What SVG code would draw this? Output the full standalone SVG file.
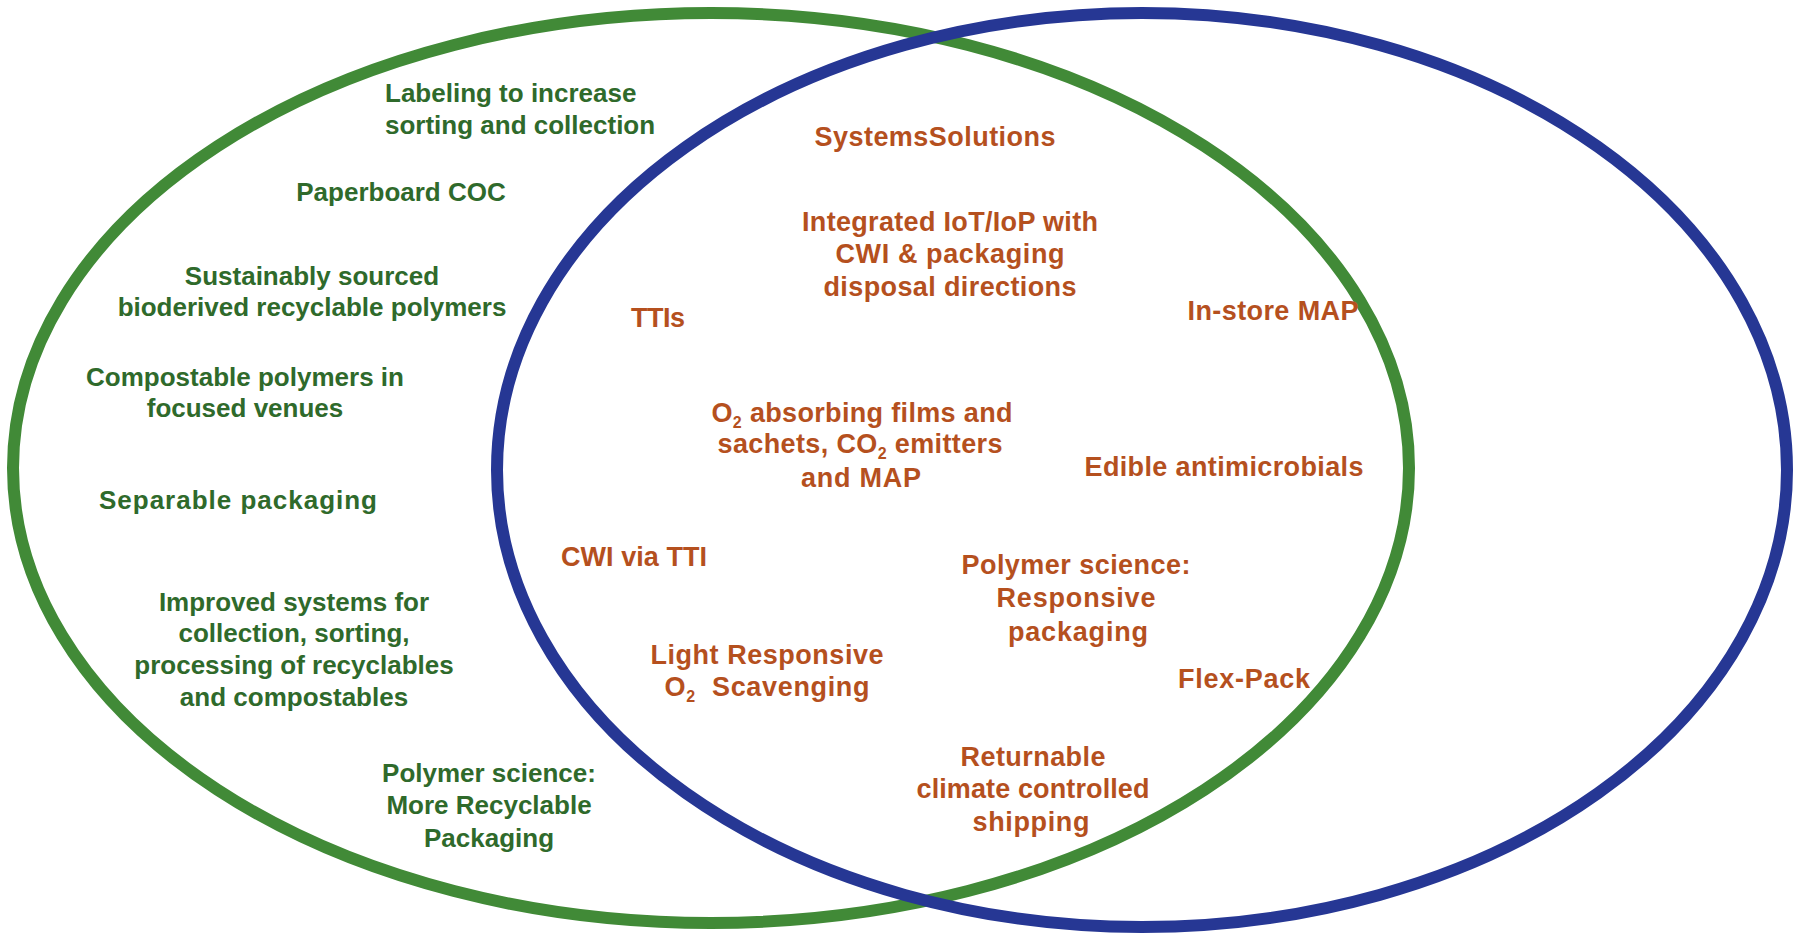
<svg xmlns="http://www.w3.org/2000/svg" width="1794" height="934" viewBox="0 0 1794 934">
<style>
.g{font-family:"Liberation Sans",Arial,sans-serif;font-weight:bold;font-size:26px;fill:#2F6A2B;text-anchor:middle}
.o{font-family:"Liberation Sans",Arial,sans-serif;font-weight:bold;font-size:27px;fill:#B5501E;text-anchor:middle}
.sub{font-size:16px}
</style>
<rect width="1794" height="934" fill="#ffffff"/>
<g id="connectors">
<ellipse id="green-set" cx="711" cy="468" rx="698" ry="455" fill="none" stroke="#418A37" stroke-width="12"/>
<ellipse id="blue-set" cx="1142" cy="470" rx="645" ry="457" fill="none" stroke="#263794" stroke-width="12"/>
</g>
<g id="n-labeling"><text class="g" style="text-anchor:start" x="385" y="102">Labeling to increase</text><text class="g" style="text-anchor:start" x="385" y="134">sorting and collection</text></g>
<g id="n-paperboard"><text class="g" x="401" y="201">Paperboard COC</text></g>
<g id="n-sustainably"><text class="g" x="312" y="285">Sustainably sourced</text><text class="g" x="312" y="316">bioderived recyclable polymers</text></g>
<g id="n-compostable"><text class="g" x="245" y="386">Compostable polymers in</text><text class="g" x="245" y="417">focused venues</text></g>
<g id="n-separable"><text class="g" x="238" y="509" textLength="278" lengthAdjust="spacing">Separable packaging</text></g>
<g id="n-improved"><text class="g" x="294" y="611">Improved systems for</text><text class="g" x="294" y="642">collection, sorting,</text><text class="g" x="294" y="674">processing of recyclables</text><text class="g" x="294" y="706">and compostables</text></g>
<g id="n-polymer-recyclable"><text class="g" x="489" y="782">Polymer science:</text><text class="g" x="489" y="814">More Recyclable</text><text class="g" x="489" y="847">Packaging</text></g>
<g id="n-systems"><text class="o" x="935" y="146" textLength="241" lengthAdjust="spacing">SystemsSolutions</text></g>
<g id="n-iot"><text class="o" x="950" y="231" textLength="296" lengthAdjust="spacing">Integrated IoT/IoP with</text><text class="o" x="950" y="263" textLength="229" lengthAdjust="spacing">CWI &amp; packaging</text><text class="o" x="950" y="296" textLength="253" lengthAdjust="spacing">disposal directions</text></g>
<g id="n-ttis"><text class="o" x="658" y="327" textLength="54" lengthAdjust="spacing">TTIs</text></g>
<g id="n-instore"><text class="o" x="1273" y="320" textLength="171" lengthAdjust="spacing">In-store MAP</text></g>
<g id="n-o2"><text class="o" x="862" y="422" textLength="301" lengthAdjust="spacing">O<tspan class="sub" dy="6">2</tspan><tspan dy="-6"> absorbing films and</tspan></text><text class="o" x="860" y="453" textLength="285" lengthAdjust="spacing">sachets, CO<tspan class="sub" dy="6">2</tspan><tspan dy="-6"> emitters</tspan></text><text class="o" x="861" y="487" textLength="120" lengthAdjust="spacing">and MAP</text></g>
<g id="n-edible"><text class="o" x="1224" y="476" textLength="279" lengthAdjust="spacing">Edible antimicrobials</text></g>
<g id="n-cwi"><text class="o" x="634" y="566" textLength="146" lengthAdjust="spacing">CWI via TTI</text></g>
<g id="n-polymer-responsive"><text class="o" x="1076" y="574" textLength="229" lengthAdjust="spacing">Polymer science:</text><text class="o" x="1076" y="607" textLength="159" lengthAdjust="spacing">Responsive</text><text class="o" x="1078" y="641" textLength="140" lengthAdjust="spacing">packaging</text></g>
<g id="n-light"><text class="o" x="767" y="664" textLength="233" lengthAdjust="spacing">Light Responsive</text><text class="o" x="767" y="696" textLength="205" lengthAdjust="spacing" xml:space="preserve">O<tspan class="sub" dy="6">2</tspan><tspan dy="-6">  Scavenging</tspan></text></g>
<g id="n-flex"><text class="o" x="1244" y="688" textLength="132" lengthAdjust="spacing">Flex-Pack</text></g>
<g id="n-returnable"><text class="o" x="1033" y="766" textLength="145" lengthAdjust="spacing">Returnable</text><text class="o" x="1033" y="798" textLength="233" lengthAdjust="spacing">climate controlled</text><text class="o" x="1031" y="831" textLength="117" lengthAdjust="spacing">shipping</text></g>
</svg>
